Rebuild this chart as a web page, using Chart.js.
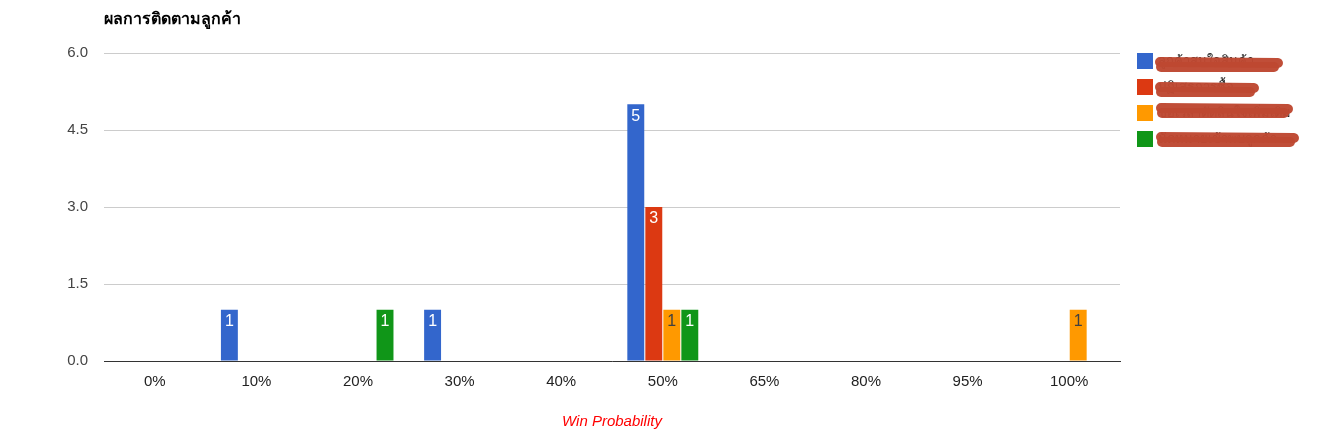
<!DOCTYPE html>
<html>
<head>
<meta charset="utf-8">
<script src="https://cdn.jsdelivr.net/npm/chart.js@4.4.0/dist/chart.umd.min.js"></script>
<style>
  html, body { margin: 0; padding: 0; background: #fff; }
  #wrap { width: 1337px; height: 441px; position: relative; }
</style>
</head>
<body>
<div id="wrap"><canvas id="chart"></canvas></div>
<script>
// ข้อมูลกราฟ
const chartTitle = 'ผลการติดตามลูกค้า';
const axisTitle = 'Win Probability';
const categories = ['0%', '10%', '20%', '30%', '40%', '50%', '65%', '80%', '95%', '100%'];
const seriesNames = ['ลูกค้าสนใจสินค้า', 'ปฏิเสธการซื้อ', 'ขอเวลาตัดสินใจเพิ่มเติม', 'นัดหมายเข้าพบลูกค้า'];
const seriesColors = ['#3366cc', '#dc3912', '#ff9900', '#109618'];
const labelColors = ['#ffffff', '#ffffff', '#404040', '#ffffff'];
const blueValues = [0, 1, 0, 1, 0, 5, 0, 0, 0, 0];
const redValues = [0, 0, 0, 0, 0, 3, 0, 0, 0, 0];
const orangeValues = [0, 0, 0, 0, 0, 1, 0, 0, 0, 1];
const greenValues = [0, 0, 1, 0, 0, 1, 0, 0, 0, 0];
const yTicks = [0, 1.5, 3, 4.5, 6];

const allValues = [blueValues, redValues, orangeValues, greenValues];
const FONT = '"Liberation Sans", Arial, sans-serif';

// วาดตัวเลขบนแท่ง ชื่อกราฟ และคำอธิบาย
const extrasPlugin = {
    id: 'extras',
    afterDatasetsDraw(chart) {
        const ctx = chart.ctx;
        ctx.save();
        ctx.font = '16px ' + FONT;
        ctx.textAlign = 'center';
        ctx.textBaseline = 'top';
        chart.data.datasets.forEach((ds, i) => {
            const meta = chart.getDatasetMeta(i);
            meta.data.forEach((bar, j) => {
                const v = ds.data[j];
                if (!v) return;
                ctx.fillStyle = labelColors[i];
                ctx.fillText(String(v), bar.x, bar.y + 4);
            });
        });
        ctx.restore();
    },
    afterDraw(chart) {
        const ctx = chart.ctx;
        const area = chart.chartArea;
        ctx.save();
        // ชื่อกราฟ
        ctx.font = 'bold 16px ' + FONT;
        ctx.fillStyle = '#000';
        ctx.textAlign = 'left';
        ctx.textBaseline = 'middle';
        ctx.fillText(chartTitle, area.left, 20);

        // ชื่อแกน x
        ctx.font = 'italic 15px ' + FONT;
        ctx.fillStyle = '#ff0000';
        ctx.textAlign = 'center';
        ctx.fillText(axisTitle, (area.left + area.right) / 2, 422);

        // คำอธิบาย
        seriesNames.forEach((name, i) => {
            const y = 53 + i * 26;
            ctx.fillStyle = seriesColors[i];
            ctx.fillRect(1137, y, 16, 16);
            ctx.font = '13px ' + FONT;
            ctx.fillStyle = '#222';
            ctx.textAlign = 'left';
            ctx.fillText(name, 1158, y + 8);
        });

        // แถบสีแดงที่ปิดข้อความในคำอธิบาย (เหมือนต้นฉบับ)
        const scribbles = [[1160, 62, 1278], [1160, 87, 1254], [1161, 108, 1288], [1161, 137, 1294]];
        ctx.strokeStyle = 'rgba(190, 72, 50, 0.97)';
        ctx.lineCap = 'round';
        ctx.lineWidth = 10;
        scribbles.forEach(s => {
            ctx.beginPath();
            ctx.moveTo(s[0], s[1]);
            ctx.lineTo(s[2], s[1] + 1);
            ctx.stroke();
            ctx.beginPath();
            ctx.moveTo(s[0] + 1, s[1] + 5);
            ctx.lineTo(s[2] - 4, s[1] + 5);
            ctx.stroke();
        });
        ctx.restore();
    }
};

const chartData = {
    labels: categories,
    datasets: allValues.map((vals, i) => ({
        label: seriesNames[i],
        data: vals,
        backgroundColor: seriesColors[i],
        borderWidth: 0,
        categoryPercentage: 0.709,
        barPercentage: 0.94
    }))
};

const config = {
    type: 'bar',
    data: chartData,
    options: {
        responsive: false,
        animation: false,
        layout: {
            padding: { top: 53, right: 217, bottom: 0, left: 0 }
        },
        plugins: {
            legend: { display: false },
            title: { display: false },
            tooltip: { enabled: false }
        },
        scales: {
            x: {
                grid: { display: false, drawTicks: false },
                border: { color: '#333333', width: 1 },
                ticks: {
                    color: '#222222',
                    font: { family: FONT, size: 15 },
                    padding: 12,
                    maxRotation: 0
                },
                afterFit: scale => { scale.height = 80; }
            },
            y: {
                min: 0,
                max: 6,
                afterBuildTicks: scale => {
                    scale.ticks = yTicks.map(v => ({ value: v }));
                },
                grid: { color: '#cccccc', drawTicks: false },
                border: { display: false },
                ticks: {
                    color: '#444444',
                    font: { family: FONT, size: 15 },
                    padding: 16,
                    callback: v => Number(v).toFixed(1)
                },
                afterFit: scale => { scale.width = 104; }
            }
        }
    },
    plugins: [extrasPlugin]
};

const canvas = document.getElementById('chart');
canvas.width = 1337;
canvas.height = 441;
const myChart = new Chart(canvas, config);
</script>
</body>
</html>
